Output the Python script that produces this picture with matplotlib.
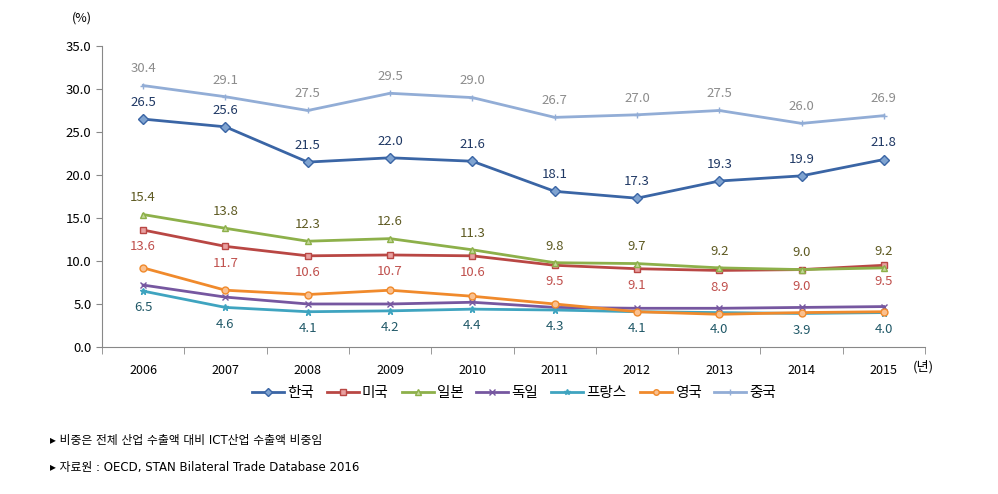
import numpy as np
import matplotlib.pyplot as plt

plt.rcParams['font.family'] = ['Noto Sans CJK KR', 'DejaVu Sans']

years = ['2006', '2007', '2008', '2009', '2010', '2011', '2012', '2013', '2014', '2015']
korea = [26.5, 25.6, 21.5, 22.0, 21.6, 18.1, 17.3, 19.3, 19.9, 21.8]
usa = [13.6, 11.7, 10.6, 10.7, 10.6, 9.5, 9.1, 8.9, 9.0, 9.5]
japan = [15.4, 13.8, 12.3, 12.6, 11.3, 9.8, 9.7, 9.2, 9.0, 9.2]
germany = [7.2, 5.8, 5.0, 5.0, 5.2, 4.6, 4.5, 4.5, 4.6, 4.7]
france = [6.5, 4.6, 4.1, 4.2, 4.4, 4.3, 4.1, 4.0, 3.9, 4.0]
uk = [9.2, 6.6, 6.1, 6.6, 5.9, 5.0, 4.1, 3.8, 4.0, 4.1]
china = [30.4, 29.1, 27.5, 29.5, 29.0, 26.7, 27.0, 27.5, 26.0, 26.9]

x = np.arange(len(years))

fig = plt.figure(figsize=(9.98, 4.94), dpi=100)
ax = fig.add_axes([0.1022, 0.2976, 0.8247, 0.6093])

# name, values, line colour, marker, marker face, label colour, label side
series = [
    ('한국', korea, '#3A65A5', 'D', '#7FA3D0', '#1F3864', 1),
    ('미국', usa, '#B94744', 's', '#E8A0A0', '#C0504D', -1),
    ('일본', japan, '#8DB04A', '^', '#C4D89A', '#5E5A22', 1),
    ('독일', germany, '#7657A0', 'x', '#7657A0', None, 0),
    ('프랑스', france, '#3FA4C0', '*', '#3FA4C0', '#215968', -1),
    ('영국', uk, '#F08A2C', 'o', '#FAC08F', None, 0),
    ('중국', china, '#92ADD6', '+', '#92ADD6', '#8C8C8C', 1),
]

for name, vals, col, mk, face, lcol, side in series:
    ax.plot(x, vals, color=col, lw=2, marker=mk, markersize=5,
            markerfacecolor=face, markeredgecolor=col, markeredgewidth=1,
            label=name)
    if lcol:
        for xi, v in zip(x, vals):
            ax.annotate(f'{v:.1f}', (xi, v), xytext=(0, 12 * side),
                        textcoords='offset points', ha='center', va='center',
                        fontsize=9.5, color=lcol)

ax.set_xlim(-0.5, 9.5)
ax.set_ylim(0, 35)
ax.set_yticks(np.arange(0, 35.1, 5))
ax.set_yticklabels([f'{v:.1f}' for v in np.arange(0, 35.1, 5)], fontsize=9.5)
ax.set_xticks(x)
ax.set_xticklabels(years, fontsize=9)
ax.set_xticks(np.arange(-0.5, 9.6, 1), minor=True)
ax.tick_params(axis='x', which='major', length=0, pad=12)
ax.tick_params(axis='x', which='minor', length=5, color='#888888')
ax.tick_params(axis='y', length=4, color='#888888')
for s in ['top', 'right']:
    ax.spines[s].set_visible(False)
for s in ['left', 'bottom']:
    ax.spines[s].set_color('#888888')

fig.text(0.082, 0.963, '(%)', fontsize=9, ha='center', va='center')
fig.text(0.925, 0.258, '(년)', fontsize=9.5, ha='center', va='center')

ax.legend(loc='center', ncol=7, frameon=False, fontsize=10.5, handlelength=2.2,
          handletextpad=0.2, columnspacing=0.9, markerscale=0.8)
leg = ax.get_legend()
leg.set_bbox_to_anchor((0.515, 0.205), transform=fig.transFigure)

fig.text(0.05, 0.108, '▸ 비중은 전체 산업 수출액 대비 ICT산업 수출액 비중임', fontsize=8.5,
         va='center', family=['DejaVu Sans', 'Noto Sans CJK KR'])
fig.text(0.05, 0.054, '▸ 자료원 : OECD, STAN Bilateral Trade Database 2016', fontsize=8.5,
         va='center', family=['DejaVu Sans', 'Noto Sans CJK KR'])

fig.savefig('out.png', dpi=100)
